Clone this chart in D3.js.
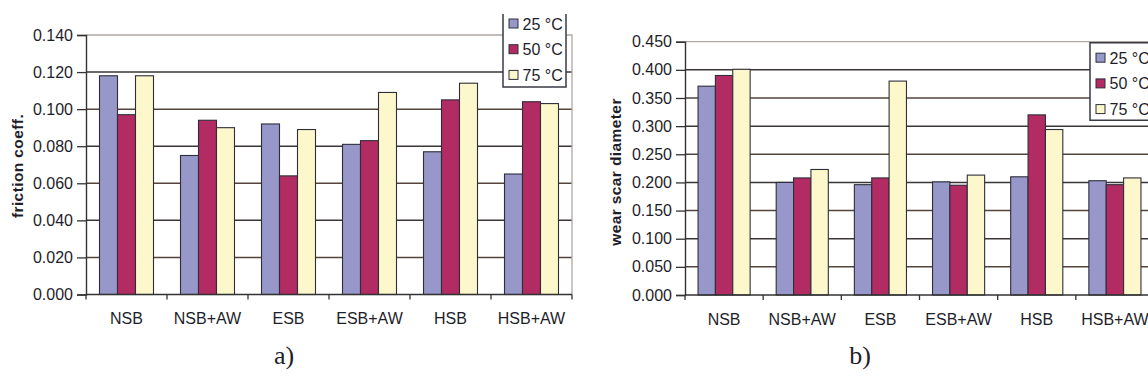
<!DOCTYPE html>
<html>
<head>
<meta charset="utf-8">
<script src="https://cdn.jsdelivr.net/npm/d3@7"></script>
<style>
  html, body { margin: 0; padding: 0; background: #fff; }
  svg { display: block; }
  text { font-family: "Liberation Sans", Arial, sans-serif; fill: #1e1e2a; }
</style>
</head>
<body>
<svg id="fig" width="1148" height="387"></svg>
<script>
// Bearing tests: categories and temperature series
const categories = ["NSB", "NSB+AW", "ESB", "ESB+AW", "HSB", "HSB+AW"];
const seriesNames = ["25 °C", "50 °C", "75 °C"];

// a) friction coefficient
const friction25 = [0.118, 0.075, 0.092, 0.081, 0.077, 0.065];
const friction50 = [0.097, 0.094, 0.064, 0.083, 0.105, 0.104];
const friction75 = [0.118, 0.090, 0.089, 0.109, 0.114, 0.103];
const frictionTicks = [0, 0.02, 0.04, 0.06, 0.08, 0.10, 0.12, 0.14];

// b) wear scar diameter
const wear25 = [0.371, 0.200, 0.196, 0.201, 0.210, 0.203];
const wear50 = [0.390, 0.208, 0.208, 0.195, 0.320, 0.196];
const wear75 = [0.401, 0.223, 0.380, 0.213, 0.294, 0.208];
const wearTicks = [0, 0.05, 0.10, 0.15, 0.20, 0.25, 0.30, 0.35, 0.40, 0.45];

const colors = ["#9797c9", "#b32b63", "#fcf8cb"];
const FS = 16;

const svg = d3.select("#fig");

function drawChart(opt) {
  const g = svg.append("g");
  const x = d3.scaleBand().domain(categories).range([opt.left, opt.right])
    .paddingInner(1 / 3).paddingOuter(1 / 6);
  const xs = d3.scaleBand().domain(seriesNames).range([0, x.bandwidth()]);
  const y = d3.scaleLinear().domain([0, opt.max]).range([opt.bottom, opt.top]);

  // gridlines
  g.append("g").selectAll("line")
    .data(opt.ticks.filter(t => t > 0 && t < opt.max))
    .join("line")
    .attr("x1", opt.left).attr("x2", opt.right)
    .attr("y1", d => y(d)).attr("y2", d => y(d))
    .attr("stroke", (d, i) => i % 2 ? "#3a3636" : "#54443c")
    .attr("stroke-width", 1.5);

  // plot frame (top, right)
  g.append("path")
    .attr("d", `M${opt.left},${y(opt.max)}H${opt.right}V${opt.bottom}`)
    .attr("fill", "none").attr("stroke", "#b0a8a4").attr("stroke-width", 1.3);

  // bars
  const rows = categories.map((c, i) => ({ c, vals: opt.series.map(s => s[i]) }));
  g.append("g").selectAll("g")
    .data(rows).join("g")
    .attr("transform", d => `translate(${x(d.c)},0)`)
    .selectAll("rect")
    .data(d => d.vals.map((v, k) => ({ v, k })))
    .join("rect")
    .attr("x", d => xs(seriesNames[d.k]))
    .attr("width", xs.bandwidth())
    .attr("y", d => y(d.v))
    .attr("height", d => opt.bottom - y(d.v))
    .attr("fill", d => colors[d.k])
    .attr("stroke", "#2e2e3a").attr("stroke-width", 1.1);

  // y axis
  const yAxis = g.append("g").attr("transform", `translate(${opt.left},0)`)
    .call(d3.axisLeft(y).tickValues(opt.ticks).tickFormat(d3.format(".3f"))
      .tickSize(9).tickPadding(4));
  yAxis.select(".domain").attr("stroke", "#333").attr("stroke-width", 1.4);
  yAxis.selectAll(".tick line").attr("stroke", "#333").attr("stroke-width", 1.3);
  yAxis.selectAll("text").attr("font-size", FS).attr("fill", "#1e1e2a");

  // x axis
  const xEdge = d3.scaleLinear().domain([0, categories.length]).range([opt.left, opt.right]);
  const xAxis = g.append("g").attr("transform", `translate(0,${opt.bottom})`);
  xAxis.append("line").attr("x1", opt.left).attr("x2", opt.right)
    .attr("stroke", "#333").attr("stroke-width", 1.4);
  xAxis.selectAll("line.tk").data(d3.range(categories.length + 1)).join("line")
    .attr("class", "tk")
    .attr("x1", d => xEdge(d)).attr("x2", d => xEdge(d))
    .attr("y1", 0).attr("y2", 5).attr("stroke", "#333").attr("stroke-width", 1.3);
  xAxis.selectAll("text").data(categories).join("text")
    .attr("x", d => x(d) + x.bandwidth() / 2).attr("y", 29.5)
    .attr("text-anchor", "middle").attr("font-size", FS).text(d => d);

  // y axis title
  g.append("text")
    .attr("transform", `translate(${opt.titleX},${opt.titleY}) rotate(-90)`)
    .attr("text-anchor", "middle").attr("font-size", 15.5).attr("font-weight", "bold")
    .attr("letter-spacing", 0.4)
    .text(opt.title);

  // legend
  const L = opt.legend;
  const lg = g.append("g");
  lg.append("rect").attr("x", L.x).attr("y", L.y).attr("width", L.w).attr("height", L.h)
    .attr("fill", "#fff");
  lg.append("path")
    .attr("d", L.openTop
      ? `M${L.x},${L.y}V${L.y + L.h}H${L.x + L.w}V${L.y}`
      : `M${L.x},${L.y}V${L.y + L.h}H${L.x + L.w}V${L.y}Z`)
    .attr("fill", "none").attr("stroke", "#3a3a44").attr("stroke-width", 1.5);
  seriesNames.forEach((s, k) => {
    const cy = L.y + L.first + k * 25.7;
    lg.append("rect").attr("x", L.x + 6).attr("y", cy - 4.5).attr("width", 9).attr("height", 9)
      .attr("fill", colors[k]).attr("stroke", "#2e2e3a").attr("stroke-width", 1);
    lg.append("text").attr("x", L.x + 19.5).attr("y", cy + 6).attr("font-size", FS).text(s);
  });

  // caption
  svg.append("text").attr("x", opt.capX).attr("y", 364).attr("text-anchor", "middle")
    .style("font-family", "'Liberation Serif', 'DejaVu Serif', serif")
    .attr("font-size", 26).text(opt.caption);
}

drawChart({
  left: 86, right: 572, top: 35, bottom: 294.5, max: 0.14,
  ticks: frictionTicks, series: [friction25, friction50, friction75],
  title: "friction coeff.", titleX: 22.5, titleY: 166,
  legend: { x: 503, y: 14, w: 63, h: 73, first: 9.5, openTop: true },
  caption: "a)", capX: 284
});

drawChart({
  left: 685, right: 1154, top: 41.7, bottom: 295, max: 0.45,
  ticks: wearTicks, series: [wear25, wear50, wear75],
  title: "wear scar diameter", titleX: 621, titleY: 172,
  legend: { x: 1090, y: 42.7, w: 70, h: 77.5, first: 15, openTop: false },
  caption: "b)", capX: 860
});
</script>
</body>
</html>
